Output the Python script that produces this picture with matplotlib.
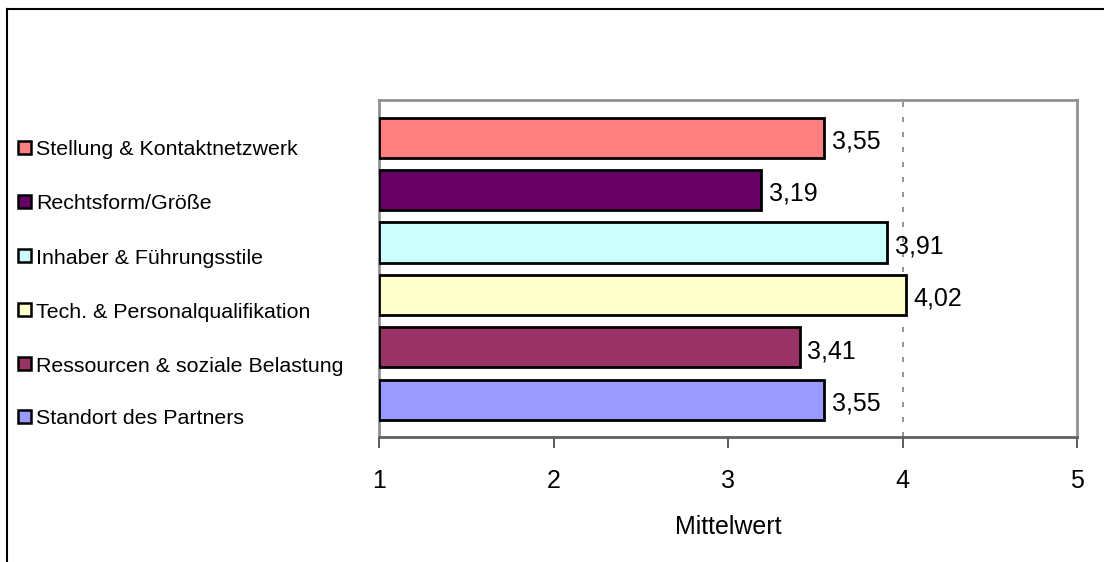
import matplotlib
matplotlib.use("Agg")
import matplotlib.pyplot as plt
from matplotlib.patches import Rectangle
from matplotlib.lines import Line2D

plt.rcParams['font.family'] = ['Liberation Sans', 'DejaVu Sans']

# Categories from bottom to top
categories = ["Standort des Partners", "Ressourcen & soziale Belastung",
              "Tech. & Personalqualifikation", "Inhaber & Führungsstile",
              "Rechtsform/Größe", "Stellung & Kontaktnetzwerk"]
values = [3.55, 3.41, 4.02, 3.91, 3.19, 3.55]
colors = ["#9999FF", "#993366", "#FFFFCC", "#CCFFFF", "#660066", "#FF8080"]
xticks = [1, 2, 3, 4, 5]
xlabel = "Mittelwert"

W, H = 1104, 562
fig = plt.figure(figsize=(W / 100, H / 100), dpi=100)

# Plot area in pixel coordinates
left, right, top, bottom = 379, 1077, 100, 437
ax = fig.add_axes([left / W, 1 - bottom / H, (right - left) / W, (bottom - top) / H])

y = list(range(len(categories)))
ax.barh(y, [v - 1 for v in values], left=1, height=0.766, color=colors,
        edgecolor="black", linewidth=2, zorder=3)
for yi, v in zip(y, values):
    ax.text(v + 0.045, yi - 0.07, f"{v:.2f}".replace(".", ","), va="center", ha="left",
            fontsize=18, zorder=4)

ax.set_xlim(1, 5)
ax.set_ylim(-0.71, 5.72)
ax.set_xticks(xticks)
ax.set_xticklabels([str(t) for t in xticks], fontsize=18)
ax.set_yticks([])
ax.tick_params(axis="x", direction="out", length=8, width=1.2, color="#404040", pad=15)
ax.axvline(4, color="#808080", linestyle=(0, (3, 6)), linewidth=1.2, zorder=1)
for s in ["top", "right", "left"]:
    ax.spines[s].set_color("#909090")
    ax.spines[s].set_linewidth(2)
ax.spines["bottom"].set_color("#606060")
ax.spines["bottom"].set_linewidth(2)
ax.set_xlabel(xlabel, fontsize=18, labelpad=16)

# Legend drawn at left, top entry first
legend_y = [150, 204, 258, 312, 366, 419]
for cat, col, ly in zip(reversed(categories), reversed(colors), legend_y):
    fig.patches.append(Rectangle((18 / W, 1 - (ly + 4) / H), 13 / W, 13 / H,
                                 transform=fig.transFigure, facecolor=col,
                                 edgecolor="black", linewidth=1.8))
    fig.text(36 / W, 1 - ly / H, cat, fontsize=15.4, va="center", ha="left")

# Outer chart border (top and left edges)
fig.add_artist(Line2D([7 / W, 1.0], [1 - 9 / H, 1 - 9 / H], color="black", linewidth=1.5,
                      transform=fig.transFigure))
fig.add_artist(Line2D([7 / W, 7 / W], [1 - 9 / H, 0.0], color="black", linewidth=1.5,
                      transform=fig.transFigure))

fig.savefig("out.png", dpi=100)
